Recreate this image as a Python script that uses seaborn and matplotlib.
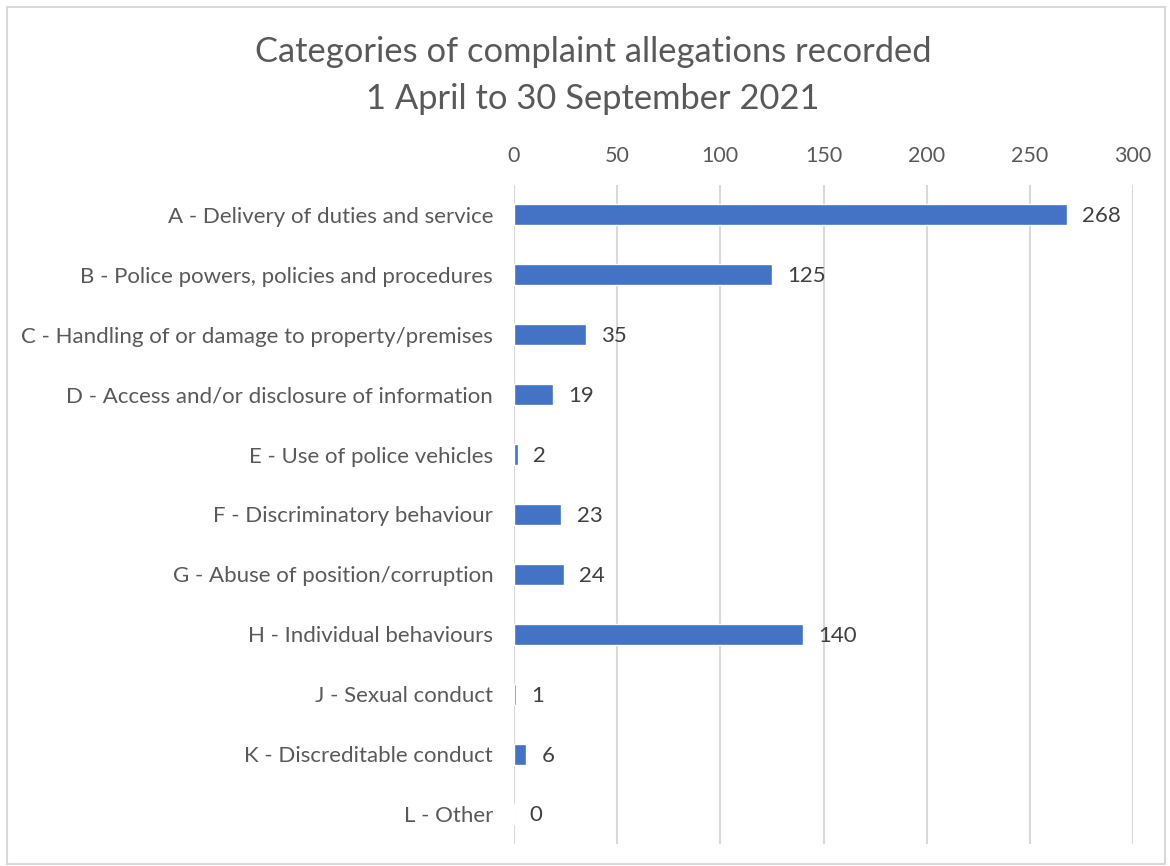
import matplotlib.pyplot as plt
import pandas as pd
import seaborn as sns
from matplotlib.patches import Rectangle

categories = [
    "A - Delivery of duties and service",
    "B - Police powers, policies and procedures",
    "C - Handling of or damage to property/premises",
    "D - Access and/or disclosure of information",
    "E - Use of police vehicles",
    "F - Discriminatory behaviour",
    "G - Abuse of position/corruption",
    "H - Individual behaviours",
    "J - Sexual conduct",
    "K - Discreditable conduct",
    "L - Other",
]
allegations = [268, 125, 35, 19, 2, 23, 24, 140, 1, 6, 0]
x_ticks = [0, 50, 100, 150, 200, 250, 300]

df = pd.DataFrame({"category": categories, "count": allegations})

sns.set_theme(style="white")
plt.rcParams["font.family"] = ["Lato", "DejaVu Sans"]
text_color = "#595959"

fig = plt.figure(figsize=(11.7, 8.66), dpi=100)
ax = fig.add_axes([0.4393, 0.0254, 0.5291, 0.761])

sns.barplot(data=df, x="count", y="category", orient="h", color="#4472C4",
            saturation=1, width=0.35, ax=ax)

ax.set_xlim(0, 300)
ax.set_xticks(x_ticks)
ax.xaxis.tick_top()
ax.tick_params(axis="x", length=0, pad=14, labelsize=15.5, colors=text_color)
ax.tick_params(axis="y", length=0, pad=15, labelsize=16, colors=text_color)
ax.set_xlabel("")
ax.set_ylabel("")
ax.grid(axis="x", color="#D9D9D9", linewidth=1.5)
ax.set_axisbelow(True)
for side in ["top", "right", "bottom", "left"]:
    ax.spines[side].set_visible(False)

for i, v in enumerate(allegations):
    ax.annotate(str(v), (v, i), xytext=(11, -1), textcoords="offset points",
                va="center", ha="left", fontsize=16, color="#404040")

fig.text(0.507, 0.94, "Categories of complaint allegations recorded",
         ha="center", va="center", fontsize=24.8, color=text_color)
fig.text(0.507, 0.886, "1 April to 30 September 2021",
         ha="center", va="center", fontsize=24.8, color=text_color)

fig.patches.append(Rectangle((0.006, 0.002), 0.99, 0.99, transform=fig.transFigure,
                             fill=False, edgecolor="#D9D9D9", linewidth=1.5))

plt.savefig("out.png", dpi=100)
plt.close()
